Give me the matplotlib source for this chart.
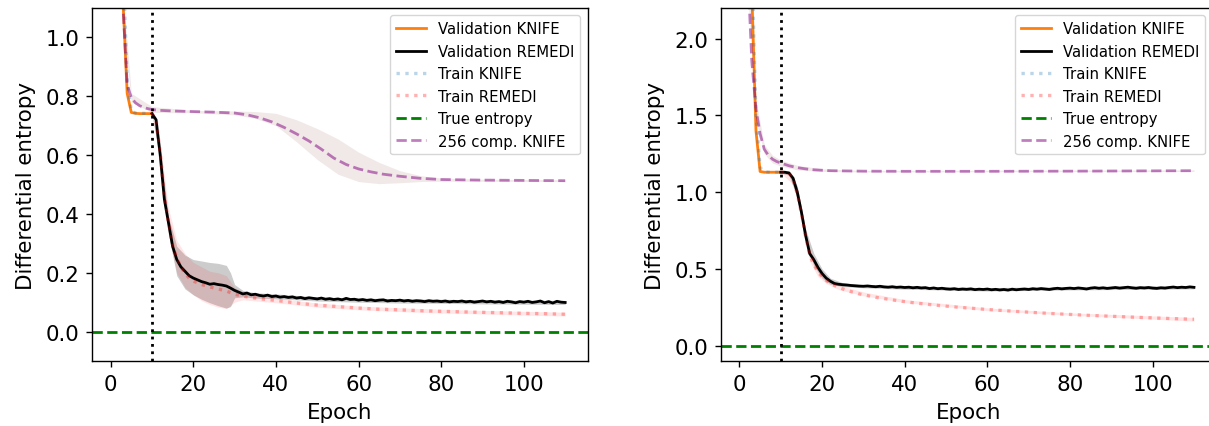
import matplotlib
matplotlib.use("Agg")
import matplotlib.pyplot as plt

# ---------------- left panel data ----------------
ep_knife_l = [1, 2, 3, 4, 5, 6, 7, 8, 9, 10]
val_knife_l = [4.0, 2.2, 1.12, 0.81, 0.745, 0.742, 0.741, 0.741, 0.741, 0.741]
train_knife_l = [4.2, 2.4, 1.25, 0.85, 0.75, 0.743, 0.742, 0.742, 0.741, 0.741]

ep_remedi = list(range(10, 111))
val_remedi_l = [
    0.741, 0.72, 0.60, 0.45, 0.37, 0.29, 0.245, 0.22, 0.205, 0.19, 0.182,
    0.176, 0.170, 0.166, 0.161, 0.163, 0.160, 0.158, 0.155, 0.148, 0.140,
    0.134, 0.128, 0.131, 0.125, 0.127, 0.123, 0.121, 0.124, 0.119, 0.121,
    0.117, 0.119, 0.116, 0.118, 0.114, 0.116, 0.112, 0.115, 0.113, 0.111,
    0.114, 0.110, 0.112, 0.109, 0.111, 0.108, 0.113, 0.109, 0.110, 0.107,
    0.109, 0.106, 0.108, 0.105, 0.107, 0.108, 0.104, 0.106, 0.105, 0.107,
    0.104, 0.106, 0.103, 0.105, 0.104, 0.102, 0.105, 0.103, 0.104, 0.102,
    0.104, 0.101, 0.103, 0.102, 0.104, 0.101, 0.103, 0.100, 0.102, 0.104,
    0.101, 0.103, 0.100, 0.102, 0.099, 0.103, 0.101, 0.098, 0.102, 0.100,
    0.103, 0.099, 0.101, 0.104, 0.098, 0.102, 0.097, 0.103, 0.100, 0.099,
]
ep_band_l = [10, 12, 14, 16, 18, 20, 22, 24, 26, 28, 29, 30, 32, 35, 40, 50, 60, 70, 80, 90, 100, 110]
val_remedi_lo_l = [0.74, 0.58, 0.33, 0.19, 0.145, 0.125, 0.11, 0.098, 0.088, 0.08, 0.085, 0.115,
                   0.118, 0.114, 0.112, 0.104, 0.100, 0.097, 0.096, 0.094, 0.093, 0.092]
val_remedi_hi_l = [0.745, 0.62, 0.39, 0.29, 0.26, 0.245, 0.24, 0.235, 0.232, 0.225, 0.2, 0.16,
                   0.14, 0.132, 0.128, 0.118, 0.114, 0.112, 0.110, 0.108, 0.107, 0.106]

ep_train_remedi_l = [10, 11, 12, 13, 14, 15, 16, 17, 18, 19, 20, 22, 24, 26, 28, 30, 33, 36, 40,
                     45, 50, 55, 60, 65, 70, 75, 80, 88, 95, 100, 105, 110]
train_remedi_l = [0.741, 0.72, 0.61, 0.46, 0.37, 0.295, 0.25, 0.22, 0.198, 0.182, 0.172, 0.16,
                  0.152, 0.145, 0.138, 0.127, 0.118, 0.112, 0.106, 0.097, 0.09, 0.085, 0.08,
                  0.076, 0.074, 0.071, 0.069, 0.066, 0.064, 0.062, 0.061, 0.059]
ep_train_band_l = [10, 12, 14, 16, 18, 20, 22, 24, 26, 28, 30, 32, 36, 40, 50, 60, 70, 80, 90, 100, 110]
train_remedi_lo_l = [0.74, 0.58, 0.33, 0.2, 0.15, 0.125, 0.105, 0.092, 0.083, 0.078, 0.1, 0.108,
                     0.103, 0.098, 0.083, 0.074, 0.068, 0.063, 0.06, 0.056, 0.053]
train_remedi_hi_l = [0.745, 0.64, 0.42, 0.31, 0.265, 0.235, 0.22, 0.205, 0.2, 0.19, 0.15, 0.135,
                     0.12, 0.114, 0.097, 0.087, 0.081, 0.076, 0.072, 0.069, 0.066]

ep_comp_l = [1, 2, 3, 4, 5, 6, 7, 8, 9, 10, 12, 15, 20, 25, 30, 33, 36, 39, 42, 45, 48, 51, 54,
             57, 60, 63, 66, 70, 75, 80, 90, 100, 110]
comp_l = [2.5, 1.5, 1.1, 0.84, 0.795, 0.778, 0.768, 0.762, 0.758, 0.755, 0.752, 0.75, 0.748,
          0.746, 0.743, 0.737, 0.727, 0.713, 0.694, 0.672, 0.648, 0.62, 0.59, 0.568, 0.553,
          0.543, 0.535, 0.528, 0.521, 0.517, 0.515, 0.514, 0.513]
ep_comp_band_l = [3, 5, 10, 20, 30, 35, 40, 45, 50, 55, 60, 65, 70, 75, 80, 90, 110]
comp_hi_l = [1.15, 0.81, 0.765, 0.752, 0.75, 0.748, 0.742, 0.72, 0.69, 0.655, 0.61, 0.575,
             0.547, 0.53, 0.522, 0.518, 0.516]
comp_lo_l = [1.05, 0.78, 0.745, 0.744, 0.737, 0.725, 0.70, 0.645, 0.585, 0.535, 0.51, 0.503,
             0.506, 0.51, 0.511, 0.511, 0.51]

# ---------------- right panel data ----------------
ep_knife_r = [1, 2, 3, 4, 5, 6, 7, 8, 9, 10]
val_knife_r = [6.0, 4.0, 2.3, 1.4, 1.135, 1.13, 1.13, 1.13, 1.13, 1.13]
train_knife_r = [6.2, 4.2, 2.5, 1.5, 1.16, 1.135, 1.13, 1.13, 1.13, 1.13]

val_remedi_r = [
    1.13, 1.13, 1.125, 1.09, 1.0, 0.87, 0.72, 0.60, 0.56, 0.51, 0.47,
    0.44, 0.42, 0.405, 0.40, 0.397, 0.395, 0.392, 0.39, 0.388, 0.387,
    0.389, 0.386, 0.384, 0.387, 0.383, 0.381, 0.384, 0.380, 0.382, 0.379,
    0.381, 0.377, 0.380, 0.376, 0.378, 0.372, 0.376, 0.371, 0.374, 0.370,
    0.368, 0.371, 0.366, 0.369, 0.367, 0.370, 0.365, 0.368, 0.366, 0.369,
    0.364, 0.367, 0.363, 0.366, 0.362, 0.368, 0.364, 0.367, 0.369, 0.366,
    0.371, 0.368, 0.372, 0.369, 0.366, 0.371, 0.374, 0.370, 0.373, 0.375,
    0.372, 0.376, 0.373, 0.369, 0.375, 0.378, 0.374, 0.377, 0.373, 0.376,
    0.379, 0.375, 0.378, 0.381, 0.377, 0.374, 0.378, 0.376, 0.379, 0.375,
    0.373, 0.377, 0.375, 0.379, 0.382, 0.378, 0.381, 0.379, 0.383, 0.380,
]
ep_band_r = [10, 12, 14, 16, 18, 20, 22, 25, 30, 40, 60, 80, 110]
val_remedi_lo_r = [1.125, 1.11, 0.96, 0.68, 0.52, 0.44, 0.40, 0.385, 0.377, 0.368, 0.356, 0.363, 0.37]
val_remedi_hi_r = [1.135, 1.14, 1.04, 0.76, 0.6, 0.5, 0.44, 0.41, 0.397, 0.39, 0.378, 0.385, 0.392]

ep_train_remedi_r = [10, 11, 12, 13, 14, 15, 16, 17, 18, 19, 20, 21, 22, 24, 26, 29, 33, 37, 42,
                     47, 53, 60, 67, 75, 85, 95, 102, 110]
train_remedi_r = [1.13, 1.13, 1.125, 1.085, 0.99, 0.86, 0.71, 0.59, 0.53, 0.48, 0.45, 0.425,
                  0.405, 0.38, 0.36, 0.337, 0.315, 0.298, 0.28, 0.265, 0.25, 0.236, 0.223, 0.21,
                  0.197, 0.186, 0.179, 0.172]
ep_train_band_r = [10, 13, 15, 17, 19, 21, 24, 30, 40, 60, 80, 110]
train_remedi_lo_r = [1.125, 1.05, 0.82, 0.55, 0.45, 0.405, 0.365, 0.325, 0.28, 0.228, 0.198, 0.16]
train_remedi_hi_r = [1.135, 1.11, 0.9, 0.63, 0.51, 0.445, 0.395, 0.35, 0.3, 0.246, 0.214, 0.184]

ep_comp_r = [1, 2, 3, 4, 5, 6, 7, 8, 9, 10, 12, 14, 16, 18, 22, 30, 40, 60, 80, 110]
comp_r = [4.0, 2.45, 1.85, 1.54, 1.38, 1.28, 1.24, 1.215, 1.2, 1.19, 1.172, 1.16, 1.152, 1.146,
          1.14, 1.137, 1.136, 1.136, 1.137, 1.14]
ep_comp_band_r = [2, 4, 6, 8, 10, 14, 20, 30, 110]
comp_hi_r = [2.6, 1.6, 1.31, 1.24, 1.21, 1.175, 1.152, 1.142, 1.145]
comp_lo_r = [2.3, 1.48, 1.25, 1.19, 1.17, 1.145, 1.135, 1.132, 1.135]

true_entropy = 0.0
pretrain_end = 10

# original looks like a 12pt figure blown up ~1.28x
plt.rcParams["axes.linewidth"] = 1.0
plt.rcParams["xtick.major.width"] = 1.0
plt.rcParams["ytick.major.width"] = 1.0
plt.rcParams["xtick.major.size"] = 4.5
plt.rcParams["ytick.major.size"] = 4.5
plt.rcParams["xtick.major.pad"] = 4.5
plt.rcParams["ytick.major.pad"] = 4.5
LW = 2.0


def draw_panel(ax, d, ylim, yticks, legend_anchor):
    ax.fill_between(d["ep_band"], d["lo"], d["hi"], color="black", alpha=0.2, lw=0)
    ax.fill_between(d["ep_tband"], d["tlo"], d["thi"], color="red", alpha=0.1, lw=0)
    ax.fill_between(d["ep_cband"], d["clo"], d["chi"], color="rosybrown", alpha=0.2, lw=0)
    ax.plot(d["ep_knife"], d["val_knife"], color="tab:orange", lw=LW, label="Validation KNIFE")
    ax.plot(ep_remedi, d["val_remedi"], color="black", lw=LW, label="Validation REMEDI")
    ax.plot(d["ep_knife"], d["train_knife"], color="tab:blue", alpha=0.3, lw=LW * 1.2, ls=":",
            label="Train KNIFE")
    ax.plot(d["ep_train"], d["train_remedi"], color="red", alpha=0.3, lw=LW * 1.2, ls=":",
            label="Train REMEDI")
    ax.axhline(true_entropy, color="green", lw=LW, ls="--", label="True entropy")
    ax.plot(d["ep_comp"], d["comp"], color="purple", alpha=0.5, lw=LW, ls="--",
            label="256 comp. KNIFE")
    ax.axvline(pretrain_end, color="black", lw=LW, ls=":")
    ax.set_xlim(-4.45, 115.45)
    ax.set_ylim(*ylim)
    ax.set_yticks(yticks)
    ax.set_xticks([0, 20, 40, 60, 80, 100])
    ax.set_xlabel("Epoch", fontsize=15.4, labelpad=6)
    ax.set_ylabel("Differential entropy", fontsize=15.4, labelpad=7)
    ax.tick_params(labelsize=15.4)
    ax.legend(loc="upper right", bbox_to_anchor=legend_anchor, fontsize=10.7)


fig = plt.figure(figsize=(12.09, 4.27), dpi=100)
ax1 = fig.add_axes([0.0763, 0.1522, 0.4098, 0.8267])
ax2 = fig.add_axes([0.5964, 0.1522, 0.4098, 0.8267])

left = dict(ep_knife=ep_knife_l, val_knife=val_knife_l, train_knife=train_knife_l,
            val_remedi=val_remedi_l, ep_band=ep_band_l, lo=val_remedi_lo_l, hi=val_remedi_hi_l,
            ep_train=ep_train_remedi_l, train_remedi=train_remedi_l,
            ep_tband=ep_train_band_l, tlo=train_remedi_lo_l, thi=train_remedi_hi_l,
            ep_comp=ep_comp_l, comp=comp_l, ep_cband=ep_comp_band_l, clo=comp_lo_l, chi=comp_hi_l)
right = dict(ep_knife=ep_knife_r, val_knife=val_knife_r, train_knife=train_knife_r,
             val_remedi=val_remedi_r, ep_band=ep_band_r, lo=val_remedi_lo_r, hi=val_remedi_hi_r,
             ep_train=ep_train_remedi_r, train_remedi=train_remedi_r,
             ep_tband=ep_train_band_r, tlo=train_remedi_lo_r, thi=train_remedi_hi_r,
             ep_comp=ep_comp_r, comp=comp_r, ep_cband=ep_comp_band_r, clo=comp_lo_r, chi=comp_hi_r)

draw_panel(ax1, left, (-0.1, 1.1), [0.0, 0.2, 0.4, 0.6, 0.8, 1.0], (1.0, 1.0))
draw_panel(ax2, right, (-0.1, 2.2), [0.0, 0.5, 1.0, 1.5, 2.0], (0.992, 1.0))

fig.savefig("out.png", dpi=100)
